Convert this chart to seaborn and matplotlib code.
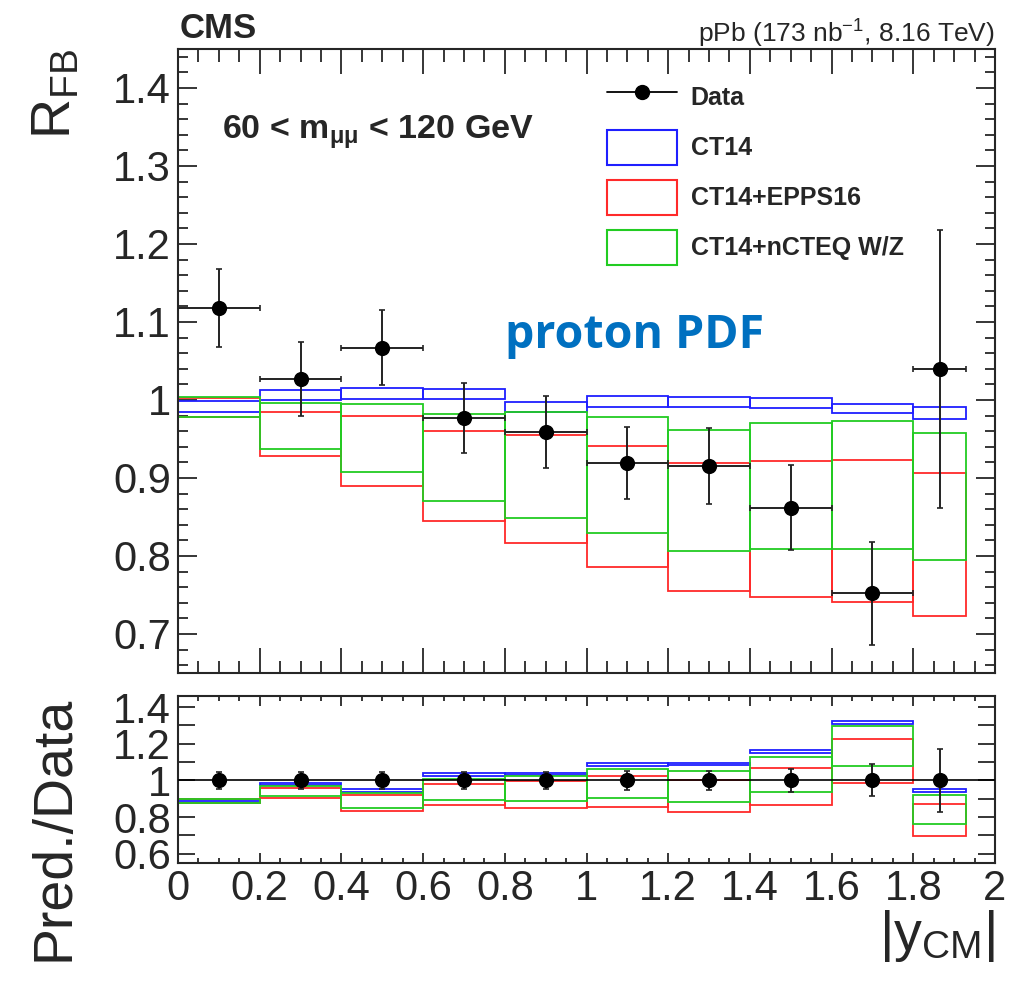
import numpy as np
import pandas as pd
import matplotlib
matplotlib.use("Agg")
import matplotlib.pyplot as plt
import seaborn as sns
from matplotlib.ticker import MultipleLocator, FuncFormatter
from matplotlib.lines import Line2D
from matplotlib.patches import Patch

# ---------------- data ----------------
bin_edges = [0.0, 0.2, 0.4, 0.6, 0.8, 1.0, 1.2, 1.4, 1.6, 1.8, 1.93]
y_cm = [0.1, 0.3, 0.5, 0.7, 0.9, 1.1, 1.3, 1.5, 1.7, 1.865]
rfb_data = [1.118, 1.027, 1.067, 0.977, 0.959, 0.919, 0.915, 0.862, 0.752, 1.040]
rfb_err = [0.050, 0.047, 0.048, 0.045, 0.046, 0.046, 0.049, 0.055, 0.066, 0.178]

ct14_lo = [0.985, 1.000, 1.001, 1.001, 0.985, 0.991, 0.991, 0.990, 0.983, 0.975]
ct14_hi = [0.999, 1.013, 1.015, 1.014, 0.997, 1.005, 1.004, 1.003, 0.995, 0.991]
epps_lo = [0.978, 0.928, 0.890, 0.845, 0.816, 0.786, 0.755, 0.747, 0.741, 0.723]
epps_hi = [1.002, 0.985, 0.980, 0.960, 0.955, 0.941, 0.919, 0.922, 0.923, 0.906]
ncteq_lo = [0.978, 0.937, 0.908, 0.870, 0.849, 0.830, 0.806, 0.809, 0.809, 0.795]
ncteq_hi = [1.004, 0.996, 0.995, 0.982, 0.984, 0.978, 0.961, 0.971, 0.973, 0.958]

model_names = ["CT14", "CT14+EPPS16", "CT14+nCTEQ W/Z"]
model_colors = ["#1f1fff", "#ff2a2a", "#22cc22"]

# ---------------- style ----------------
sns.set_style("ticks")
plt.rcParams["font.family"] = ["Liberation Sans", "DejaVu Sans"]
plt.rcParams["mathtext.fontset"] = "custom"
plt.rcParams["mathtext.rm"] = "Liberation Sans"
plt.rcParams["mathtext.it"] = "Liberation Sans:italic"
plt.rcParams["mathtext.bf"] = "Liberation Sans:bold"
plt.rcParams["axes.linewidth"] = 1.5

edges = np.array(bin_edges)
left = edges[:-1]
widths = np.diff(edges)
x = np.array(y_cm)
data = np.array(rfb_data)
err = np.array(rfb_err)
xerr = widths / 2
lows = [np.array(ct14_lo), np.array(epps_lo), np.array(ncteq_lo)]
highs = [np.array(ct14_hi), np.array(epps_hi), np.array(ncteq_hi)]

df = pd.DataFrame({"y_cm": x, "rfb": data, "ratio": np.ones_like(data)})

fig = plt.figure(figsize=(10.25, 9.85), dpi=100)
fig.patch.set_facecolor("white")
ax1 = fig.add_axes([0.1737, 0.3168, 0.797, 0.6335])
ax2 = fig.add_axes([0.1737, 0.1239, 0.797, 0.1695])

fmt = FuncFormatter(lambda v, p: f"{v:g}")

# ---------------- top panel ----------------
for lo, hi, c in zip(lows, highs, model_colors):
    ax1.bar(left, hi - lo, width=widths, bottom=lo, align="edge",
            fill=False, edgecolor=c, linewidth=1.3, zorder=2)

ax1.errorbar(x, data, yerr=err, xerr=xerr, fmt="none", ecolor="#222222",
             elinewidth=1.4, capsize=2.5, capthick=1.2, zorder=4)
sns.scatterplot(data=df, x="y_cm", y="rfb", ax=ax1, color="black", s=120,
                edgecolor="black", linewidth=0, zorder=5, legend=False)

ax1.set_xlim(0, 2)
ax1.set_ylim(0.65, 1.45)
ax1.xaxis.set_major_locator(MultipleLocator(0.2))
ax1.xaxis.set_minor_locator(MultipleLocator(0.05))
ax1.yaxis.set_major_locator(MultipleLocator(0.1))
ax1.yaxis.set_minor_locator(MultipleLocator(0.02))
ax1.yaxis.set_major_formatter(fmt)
ax1.tick_params(axis="both", which="both", direction="in", top=True, right=True,
                width=1.3)
ax1.tick_params(axis="x", which="major", length=18, labelbottom=False)
ax1.tick_params(axis="x", which="minor", length=9)
ax1.tick_params(axis="y", which="major", length=14, labelsize=30, pad=5)
ax1.tick_params(axis="y", which="minor", length=7)
ax1.set_xlabel("")
ax1.set_ylabel(r"R$_{\mathregular{FB}}$", fontsize=40, loc="top")
ax1.yaxis.set_label_coords(-0.117, 1.0)

handles = [Line2D([0], [0], color="black", lw=1.3, marker="o", markersize=10)]
handles += [Patch(facecolor="none", edgecolor=c, linewidth=1.5) for c in model_colors]
labels = ["Data"] + model_names
ax1.legend(handles, labels, loc="upper left", bbox_to_anchor=(0.525, 0.951),
           frameon=False, borderpad=0, borderaxespad=0,
           handlelength=2.8, handleheight=1.777, handletextpad=0.55,
           labelspacing=0.6, prop={"family": "Liberation Sans", "weight": "bold", "size": 18})

# ---------------- bottom panel ----------------
for lo, hi, c in zip(lows, highs, model_colors):
    ax2.bar(left, (hi - lo) / data, width=widths, bottom=lo / data, align="edge",
            fill=False, edgecolor=c, linewidth=1.3, zorder=2)
ax2.axhline(1.0, color="black", lw=1.2, zorder=3)
ax2.errorbar(x, np.ones_like(data), yerr=err / data, fmt="none", ecolor="#222222",
             elinewidth=1.4, capsize=2.5, capthick=1.2, zorder=4)
sns.scatterplot(data=df, x="y_cm", y="ratio", ax=ax2, color="black", s=120,
                edgecolor="black", linewidth=0, zorder=5, legend=False)

ax2.set_xlim(0, 2)
ax2.set_ylim(0.55, 1.46)
ax2.xaxis.set_major_locator(MultipleLocator(0.2))
ax2.xaxis.set_minor_locator(MultipleLocator(0.05))
ax2.xaxis.set_major_formatter(fmt)
ax2.yaxis.set_major_locator(MultipleLocator(0.2))
ax2.yaxis.set_minor_locator(MultipleLocator(0.1))
ax2.yaxis.set_major_formatter(fmt)
ax2.tick_params(axis="both", which="both", direction="in", top=True, right=True,
                width=1.3)
ax2.tick_params(axis="x", which="major", length=7, labelsize=30, pad=4)
ax2.tick_params(axis="x", which="minor", length=3.5)
ax2.tick_params(axis="y", which="both", length=12, labelsize=30, pad=5)
ax2.set_xlabel(r"|y$_{\mathregular{CM}}$|", fontsize=40, loc="right")
ax2.xaxis.set_label_coords(1.0, -0.27)
ax2.set_ylabel("Pred./Data", fontsize=40, loc="top")
ax2.yaxis.set_label_coords(-0.12, 1.0)

# ---------------- annotations ----------------
fig.text(180 / 1025, 1 - 38 / 985, "CMS", fontsize=25, fontweight="bold", va="baseline")
fig.text(995 / 1025, 1 - 43 / 985, r"pPb (173 nb$^{\mathregular{-1}}$, 8.16 TeV)",
         fontsize=19, ha="right", va="baseline")
fig.text(222 / 1025, 1 - 139 / 985, r"60 < m$_{\mathregular{\mu\mu}}$ < 120 GeV",
         fontsize=24.5, fontweight="bold", va="baseline")
fig.text(505 / 1025, 1 - 348 / 985, "proton PDF", fontsize=33.5, fontweight="bold",
         family=["Open Sans", "DejaVu Sans"], color="#0070c0", va="baseline")

fig.savefig("out.png", dpi=100, facecolor="white")
